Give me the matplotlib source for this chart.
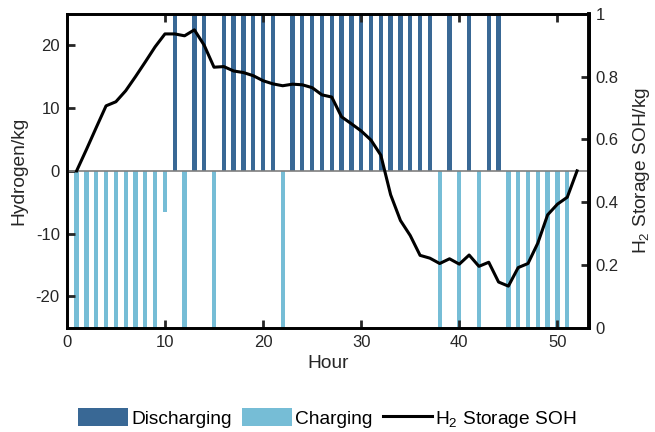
import matplotlib
matplotlib.use('Agg')
import matplotlib.pyplot as plt

plt.rcParams['font.family'] = ['Liberation Sans', 'DejaVu Sans']
plt.rcParams['font.size'] = 12
plt.rcParams['mathtext.default'] = 'regular'
plt.rcParams['axes.unicode_minus'] = False

# hourly hydrogen flows (bars hit the axis limit where clipped)
discharge_hours = [11, 13, 14, 16, 17, 18, 19, 20, 21, 23, 24, 25, 26, 27, 28, 29,
                   30, 31, 32, 33, 34, 35, 36, 37, 39, 41, 43, 44]
discharge_vals = [25] * len(discharge_hours)
charge_hours = [1, 2, 3, 4, 5, 6, 7, 8, 9, 10, 12, 15, 22, 38, 40, 42,
                45, 46, 47, 48, 49, 50, 51]
charge_vals = [-25, -25, -25, -25, -25, -25, -25, -25, -25, -6.5, -25, -25, -25,
               -25, -25, -25, -25, -25, -25, -25, -25, -25, -25]

# storage state of hydrogen
soh_hours = list(range(1, 53))
soh = [0.50, 0.568, 0.638, 0.707, 0.72, 0.755, 0.80, 0.847, 0.895, 0.936,
       0.936, 0.930, 0.949, 0.900, 0.830, 0.832, 0.818, 0.813, 0.803, 0.787,
       0.777, 0.771, 0.776, 0.774, 0.765, 0.742, 0.735, 0.672, 0.650, 0.627,
       0.598, 0.550, 0.424, 0.342, 0.294, 0.231, 0.222, 0.205, 0.220, 0.203,
       0.232, 0.196, 0.209, 0.146, 0.133, 0.192, 0.205, 0.270, 0.360, 0.394,
       0.416, 0.500]

dark = '#396895'
light = '#76bdd6'
txt = '#262626'
lab_fs = 13.8

fig = plt.figure(figsize=(6.55, 4.32), dpi=100)
ax = fig.add_axes([0.102, 0.241, 0.797, 0.727])

b1 = ax.bar(discharge_hours, discharge_vals, width=0.44, color=dark, label='Discharging')
b2 = ax.bar(charge_hours, charge_vals, width=0.44, color=light, label='Charging')
ax.axhline(0, color='#7f7f7f', lw=1.2, zorder=3)

ax.set_xlim(0, 53.2)
ax.set_ylim(-25, 25)
ax.set_yticks([-20, -10, 0, 10, 20])
ax.set_xticks([0, 10, 20, 30, 40, 50])
ax.set_xlabel('Hour', color=txt, fontsize=lab_fs, labelpad=4)
ax.set_ylabel('Hydrogen/kg', color=txt, fontsize=lab_fs, labelpad=6)
ax.tick_params(direction='in', length=6, width=2, top=True, colors=txt, pad=5)
for s in ax.spines.values():
    s.set_linewidth(2)
    s.set_color('#1a1a1a')

ax2 = ax.twinx()
l1, = ax2.plot(soh_hours, soh, color='black', lw=2.2, label='H$_2$ Storage SOH')
ax2.set_ylim(0, 1)
ax2.set_yticks([0, 0.2, 0.4, 0.6, 0.8, 1])
ax2.set_yticklabels(['0', '0.2', '0.4', '0.6', '0.8', '1'])
ax2.set_ylabel('H$_2$ Storage SOH/kg', color=txt, fontsize=lab_fs, labelpad=9)
ax2.tick_params(direction='in', length=6, width=2, colors=txt, pad=5)
for s in ax2.spines.values():
    s.set_linewidth(2)
ax2.spines['right'].set_linewidth(2.8)
ax2.spines['right'].set_color('black')

fig.legend([b1, b2, l1], ['Discharging', 'Charging', 'H$_2$ Storage SOH'],
           loc='center', bbox_to_anchor=(0.5, 0.03), ncol=3, frameon=False,
           handlelength=2.6, handleheight=1.08, handletextpad=0.15,
           columnspacing=0.55, fontsize=lab_fs)

fig.savefig('out.png', dpi=100)
